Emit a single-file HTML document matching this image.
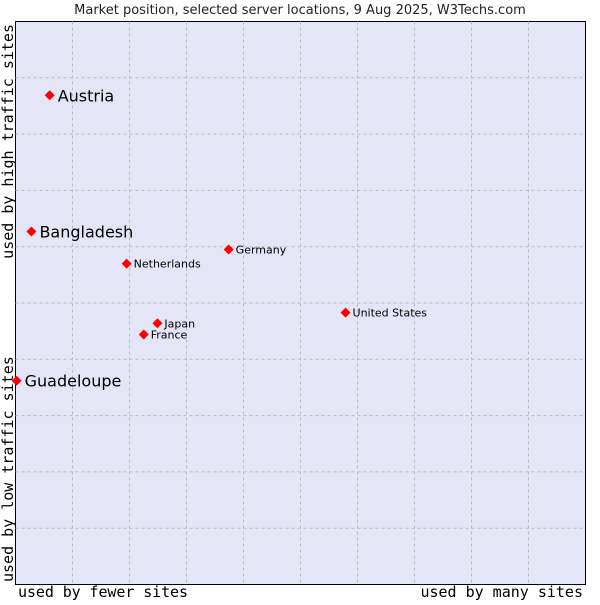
<!DOCTYPE html>
<html><head><meta charset="utf-8"><style>
body{margin:0;background:#fff;}
svg text{font-family:"DejaVu Sans","Liberation Sans",sans-serif;}
.mono{font-family:"DejaVu Sans Mono","Liberation Mono",monospace;font-size:15px;}
</style></head><body>
<svg id="chart" width="600" height="600" viewBox="0 0 600 600">
<text x="300" y="14" text-anchor="middle" font-size="13" fill="#222">Market position, selected server locations, 9 Aug 2025, W3Techs.com</text>
<rect x="15.5" y="21.5" width="570" height="563" fill="#e4e6f8" stroke="#000" stroke-width="1"/>
<g id="grid"></g>
<g id="points"></g>
<text class="mono" x="18" y="597" textLength="170">used by fewer sites</text>
<text class="mono" x="583" y="597" text-anchor="end">used by many sites</text>
<text class="mono" transform="translate(13,24) rotate(-90)" text-anchor="end">used by high traffic sites</text>
<text class="mono" transform="translate(13,582) rotate(-90)">used by low traffic sites</text>
</svg>
<script>
const countries=["Austria","Bangladesh","Germany","Netherlands","United States","Japan","France","Guadeloupe"];
const xValues=[6.0,2.8,37.4,19.5,57.9,24.9,22.5,0.2];
const yValues=[86.9,62.7,59.5,57.0,48.3,46.4,44.4,36.2];
const highlighted=[true,true,false,false,false,false,false,true];
const L=15.5,T=21.5,W=570,H=563;
const sx=v=>L+v/100*W, sy=v=>T+H-v/100*H;
const ns="http://www.w3.org/2000/svg";
const grid=document.getElementById('grid');
for(let i=1;i<10;i++){
 const a=document.createElementNS(ns,'line');
 
 
 a.setAttribute('x1',sx(i*10));a.setAttribute('x2',sx(i*10));a.setAttribute('y1',T);a.setAttribute('y2',T+H);
 a.setAttribute('stroke','#bbb');a.setAttribute('stroke-dasharray','3,3');grid.appendChild(a);
 const b=document.createElementNS(ns,'line');
 
 
 b.setAttribute('y1',sy(i*10));b.setAttribute('y2',sy(i*10));b.setAttribute('x1',L);b.setAttribute('x2',L+W);
 b.setAttribute('stroke','#bbb');b.setAttribute('stroke-dasharray','3,3');grid.appendChild(b);
}
const pts=document.getElementById('points');
countries.forEach((c,i)=>{
 const x=sx(xValues[i]),y=sy(yValues[i]);
 const d=document.createElementNS(ns,'path');
 
 
 d.setAttribute('d',`M${x} ${y-5}L${x+5} ${y}L${x} ${y+5}L${x-5} ${y}Z`);
 d.setAttribute('fill','#f00');pts.appendChild(d);
 const t=document.createElementNS(ns,'text');
 
 
 const big=highlighted[i];
 t.setAttribute('x',x+(big?8:7));t.setAttribute('y',y+(big?6:4));
 t.setAttribute('font-size',big?16:11);t.setAttribute('fill','#000');
 t.textContent=c;pts.appendChild(t);
});
</script>
</body></html>
